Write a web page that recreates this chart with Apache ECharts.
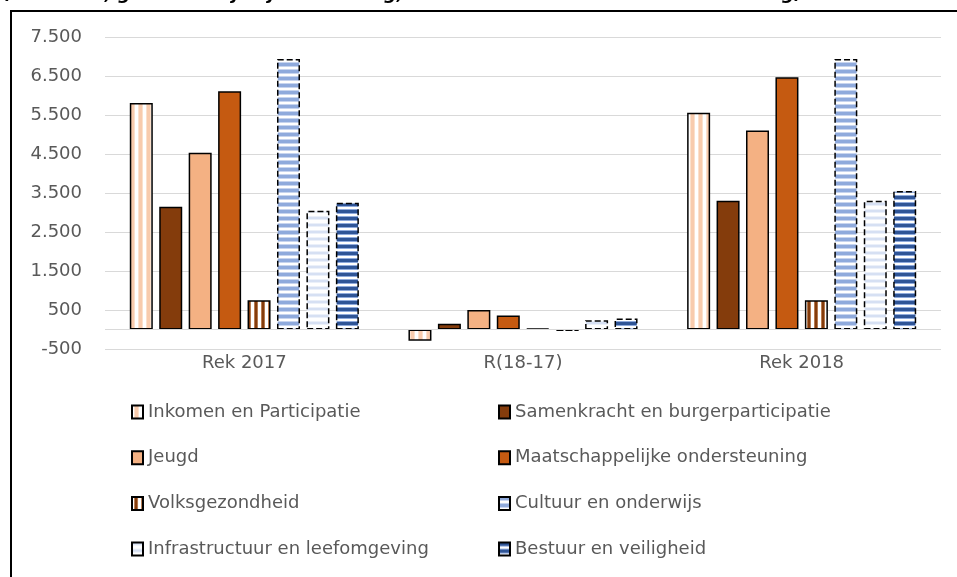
<!DOCTYPE html>
<html>
<head>
<meta charset="utf-8">
<script src="https://cdn.jsdelivr.net/npm/echarts@6/dist/echarts.min.js"></script>
<style>
html,body{margin:0;padding:0;background:#fff;}
#chart{width:957px;height:577px;}
</style>
</head>
<body>
<div id="chart"></div>
<script>
// ---- data ----
const categories = ['Rek 2017', 'R(18-17)', 'Rek 2018'];
const seriesNames = [
  'Inkomen en Participatie',
  'Samenkracht en burgerparticipatie',
  'Jeugd',
  'Maatschappelijke ondersteuning',
  'Volksgezondheid',
  'Cultuur en onderwijs',
  'Infrastructuur en leefomgeving',
  'Bestuur en veiligheid'
];
const inkomen = [5810, -290, 5560];
const samenkracht = [3150, 150, 3300];
const jeugd = [4530, 500, 5100];
const maatschappelijk = [6110, 360, 6470];
const volksgezondheid = [750, 25, 750];
const cultuur = [6935, -40, 6935];
const infrastructuur = [3045, 240, 3300];
const bestuur = [3250, 280, 3550];
const yMin = -500, yMax = 7500, yStep = 1000;
const titleText = '(x € 1.000, gemeentelijke jaarrekening, totale lasten na resultaatbestemming)';

// ---- patterns ----
function stripes(vertical, bands) {
  const period = bands.reduce((s, b) => s + b[1], 0);
  const c = document.createElement('canvas');
  c.width = vertical ? period : 4;
  c.height = vertical ? 4 : period;
  const ctx = c.getContext('2d');
  let p = 0;
  bands.forEach(([col, len]) => {
    ctx.fillStyle = col;
    if (vertical) ctx.fillRect(p, 0, len, 4); else ctx.fillRect(0, p, 4, len);
    p += len;
  });
  return { image: c, repeat: 'repeat' };
}
const pInkomen = stripes(true, [['#ffffff', 2], ['#fbe0cc', 1], ['#f8cbad', 3], ['#fbe0cc', 1], ['#ffffff', 1]]);
const pVolks = stripes(true, [['#ffffff', 2], ['#b57a50', 1], ['#843c0c', 2], ['#b57a50', 1], ['#ffffff', 1]]);
const pCultuur = stripes(false, [['#8faadc', 3], ['#c7d4ee', 1], ['#ffffff', 2], ['#c7d4ee', 1]]);
const pInfra = stripes(false, [['#d6e0f3', 2], ['#ebf0f9', 1], ['#ffffff', 3], ['#ebf0f9', 1]]);
const pBestuur = stripes(false, [['#2f5597', 3], ['#8faadc', 1], ['#ffffff', 2], ['#8faadc', 1]]);

const values = [inkomen, samenkracht, jeugd, maatschappelijk, volksgezondheid, cultuur, infrastructuur, bestuur];
const fills = [pInkomen, '#843c0c', '#f4b183', '#c55a11', pVolks, pCultuur, pInfra, pBestuur];
const borderTypes = ['solid', 'solid', 'solid', 'solid', 'solid', 'dashed', 'dashed', 'dashed'];

const FONT = '"DejaVu Sans", sans-serif';
const series = seriesNames.map((name, i) => {
  const s = {
    name: name,
    type: 'bar',
    data: values[i],
    barWidth: 23,
    barGap: '28%',
    itemStyle: {
      color: fills[i],
      borderColor: '#000000',
      borderWidth: 1.5,
      borderType: borderTypes[i]
    }
  };
  if (i === 0) {
    s.markLine = {
      silent: true,
      symbol: 'none',
      label: { show: false },
      lineStyle: { color: '#d9d9d9', type: 'solid', width: 1 },
      data: [{ yAxis: 0 }]
    };
  }
  return s;
});

const legendText = { color: '#595959', fontSize: 18, fontFamily: FONT, lineHeight: 22 };
const chart = echarts.init(document.getElementById('chart'), null, { renderer: 'canvas' });
chart.setOption({
  animation: false,
  backgroundColor: '#ffffff',
  grid: { left: 105, right: 16, top: 37, bottom: 228, containLabel: false },
  xAxis: {
    type: 'category',
    data: categories,
    axisLine: { show: false, onZero: false },
    axisTick: { show: false },
    axisLabel: { color: '#595959', fontSize: 18, fontFamily: FONT, margin: 5 }
  },
  yAxis: {
    type: 'value',
    min: yMin, max: yMax, interval: yStep,
    axisLine: { show: false },
    axisTick: { show: false },
    splitLine: { lineStyle: { color: '#d9d9d9', width: 1 } },
    axisLabel: {
      color: '#595959', fontSize: 18, fontFamily: FONT, margin: 23,
      formatter: v => String(v).replace(/\B(?=(\d{3})+(?!\d))/g, '.')
    }
  },
  legend: [
    { orient: 'vertical', left: 131, top: 401, padding: 0, itemGap: 23.7, itemWidth: 11, itemHeight: 13,
      icon: 'rect', textStyle: legendText, data: [seriesNames[0], seriesNames[2], seriesNames[4], seriesNames[6]] },
    { orient: 'vertical', left: 498, top: 401, padding: 0, itemGap: 23.7, itemWidth: 11, itemHeight: 13,
      icon: 'rect', textStyle: legendText, data: [seriesNames[1], seriesNames[3], seriesNames[5], seriesNames[7]] }
  ],
  graphic: [
    { type: 'text', z: 100, style: { x: 3, y: 3, text: titleText, font: 'italic bold 18px "DejaVu Sans", sans-serif', fill: '#000', verticalAlign: 'bottom' } },
    { type: 'polyline', z: 100, shape: { points: [[11, 577], [11, 11], [957, 11]] }, style: { stroke: '#000', lineWidth: 2, fill: null } }
  ],
  series: series
});
</script>
</body>
</html>
